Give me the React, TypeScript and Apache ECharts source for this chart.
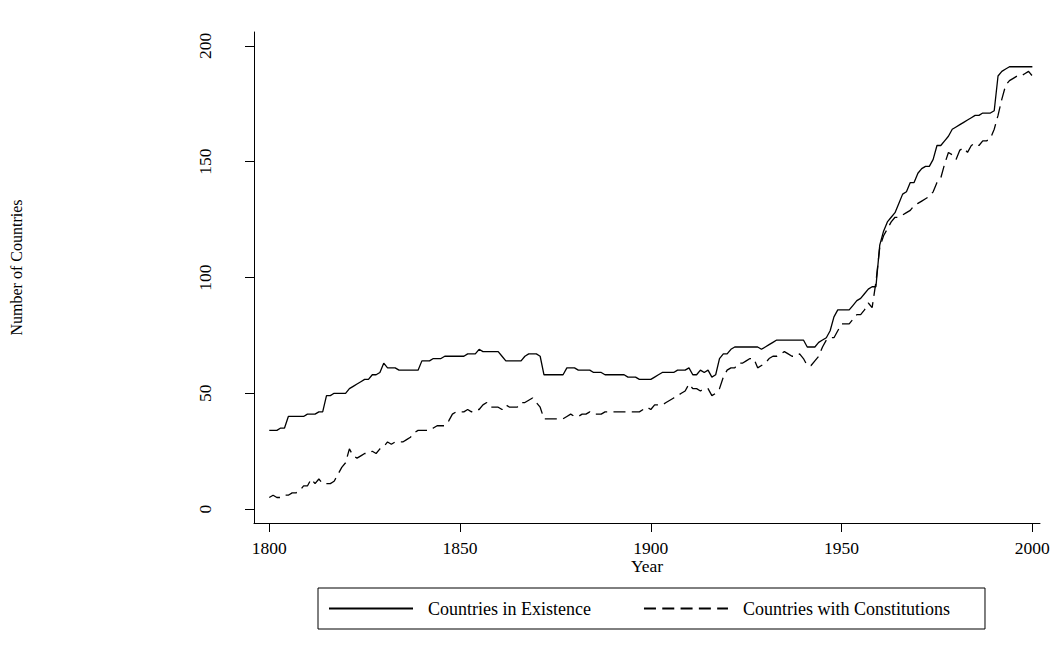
import React, { useEffect, useRef } from "react";
import * as echarts from "echarts";

const START_YEAR = 1800;

// Countries in existence, one value per year 1800..2000
const existence = [
  34, 34, 34, 35, 35, 40, 40, 40, 40, 40, // 1800s
  41, 41, 41, 42, 42, 49, 49, 50, 50, 50, // 1810s
  50, 52, 53, 54, 55, 56, 56, 58, 58, 59, // 1820s
  63, 61, 61, 61, 60, 60, 60, 60, 60, 60, // 1830s
  64, 64, 64, 65, 65, 65, 66, 66, 66, 66, // 1840s
  66, 66, 67, 67, 67, 69, 68, 68, 68, 68, // 1850s
  68, 66, 64, 64, 64, 64, 64, 66, 67, 67, // 1860s
  67, 66, 58, 58, 58, 58, 58, 58, 61, 61, // 1870s
  61, 60, 60, 60, 60, 59, 59, 59, 58, 58, // 1880s
  58, 58, 58, 58, 57, 57, 57, 56, 56, 56, // 1890s
  56, 57, 58, 59, 59, 59, 59, 60, 60, 60, // 1900s
  61, 58, 58, 60, 59, 60, 57, 58, 65, 67, // 1910s
  67, 69, 70, 70, 70, 70, 70, 70, 70, 69, // 1920s
  70, 71, 72, 73, 73, 73, 73, 73, 73, 73, // 1930s
  73, 70, 70, 70, 72, 73, 74, 77, 83, 86, // 1940s
  86, 86, 86, 88, 90, 91, 93, 95, 96, 96, // 1950s
  114, 120, 124, 126, 128, 132, 136, 137, 141, 141, // 1960s
  145, 147, 148, 148, 151, 157, 157, 159, 161, 164, // 1970s
  165, 166, 167, 168, 169, 170, 170, 171, 171, 171, // 1980s
  172, 187, 189, 190, 191, 191, 191, 191, 191, 191, // 1990s
  191, // 2000
];

// Countries with constitutions, one value per year 1800..2000
const constitutions = [
  5, 6, 5, 5, 6, 6, 7, 7, 8, 10, // 1800s
  10, 13, 11, 13, 11, 11, 11, 12, 15, 18, // 1810s
  20, 26, 23, 22, 23, 24, 24, 25, 24, 26, // 1820s
  27, 29, 28, 29, 29, 29, 30, 31, 33, 34, // 1830s
  34, 34, 34, 35, 36, 36, 36, 38, 41, 42, // 1840s
  42, 42, 43, 42, 43, 43, 45, 46, 44, 44, // 1850s
  44, 43, 45, 44, 44, 44, 46, 46, 47, 48, // 1860s
  46, 44, 39, 39, 39, 39, 39, 39, 40, 41, // 1870s
  40, 40, 41, 41, 42, 41, 41, 41, 42, 42, // 1880s
  42, 42, 42, 42, 42, 42, 42, 42, 43, 44, // 1890s
  43, 45, 45, 45, 46, 47, 48, 49, 50, 51, // 1900s
  54, 52, 52, 51, 52, 52, 49, 50, 52, 57, // 1910s
  60, 61, 61, 63, 63, 64, 65, 65, 61, 62, // 1920s
  63, 65, 66, 66, 67, 68, 67, 66, 66, 67, // 1930s
  65, 62, 62, 64, 66, 70, 73, 74, 74, 77, // 1940s
  80, 80, 80, 82, 84, 84, 86, 89, 87, 98, // 1950s
  113, 118, 121, 124, 126, 126, 127, 128, 129, 131, // 1960s
  132, 133, 134, 135, 137, 141, 143, 149, 154, 153, // 1970s
  151, 155, 156, 154, 157, 158, 157, 159, 159, 160, // 1980s
  164, 170, 177, 183, 185, 186, 187, 187, 188, 189, // 1990s
  187, // 2000
];

const xTicks = [1800, 1850, 1900, 1950, 2000];
const yTicks = [0, 50, 100, 150, 200];
const seriesNames = ["Countries in Existence", "Countries with Constitutions"];

export default function App() {
  const ref = useRef<HTMLDivElement>(null);

  useEffect(() => {
    if (!ref.current) return;
    const chart = echarts.init(ref.current, null, { renderer: "svg" });
    const font = "'Liberation Serif', 'Times New Roman', Times, serif";
    const years = existence.map((_, i) => START_YEAR + i);

    chart.setOption({
      animation: false,
      backgroundColor: "#ffffff",
      grid: { left: 254, right: 22, top: 32, bottom: 132, containLabel: false },
      xAxis: {
        type: "value",
        min: 1796,
        max: 2002,
        name: "Year",
        nameLocation: "middle",
        nameGap: 34,
        nameMoveOverlap: false,
        nameTextStyle: { fontFamily: font, fontSize: 17.5, color: "#000" },
        axisLine: { show: true, onZero: false, lineStyle: { color: "#000", width: 1 } },
        axisTick: { show: true, customValues: xTicks, length: 9, lineStyle: { color: "#000", width: 1 } },
        axisLabel: {
          customValues: xTicks,
          margin: 16,
          fontFamily: font,
          fontSize: 17.5,
          color: "#000",
          formatter: (v: number) => String(v),
        },
        splitLine: { show: false },
      },
      yAxis: {
        type: "value",
        min: -6,
        max: 206,
        name: "Number of Countries",
        nameLocation: "middle",
        nameGap: 230,
        nameMoveOverlap: false,
        nameTextStyle: { fontFamily: font, fontSize: 16, color: "#000", padding: [0, 0, 0, 20] },
        axisLine: { show: true, onZero: false, lineStyle: { color: "#000", width: 1 } },
        axisTick: { show: true, customValues: yTicks, length: 9, lineStyle: { color: "#000", width: 1 } },
        axisLabel: {
          customValues: yTicks,
          rotate: 90,
          margin: 40,
          fontFamily: font,
          fontSize: 17.5,
          color: "#000",
          formatter: (v: number) => String(v),
        },
        splitLine: { show: false },
      },
      legend: {
        left: 318,
        top: 588,
        orient: "horizontal",
        padding: [11, 35, 11, 10],
        borderColor: "#000",
        borderWidth: 1,
        itemWidth: 84,
        itemHeight: 19,
        itemGap: 52,
        selectedMode: false,
        itemStyle: { color: "transparent", borderColor: "transparent", borderWidth: 0, opacity: 0 },
        textStyle: { fontFamily: font, fontSize: 18, color: "#000", lineHeight: 19, padding: [0, 0, 0, 10] },
        data: seriesNames,
      },
      series: [
        {
          name: seriesNames[0],
          type: "line",
          data: years.map((y, i) => [y, existence[i]]),
          symbol: "none",
          itemStyle: { color: "#000" },
          lineStyle: { color: "#000", width: 1.3, type: "solid" },
        },
        {
          name: seriesNames[1],
          type: "line",
          data: years.map((y, i) => [y, constitutions[i]]),
          symbol: "none",
          itemStyle: { color: "#000" },
          lineStyle: { color: "#000", width: 1.3, type: [12, 6.3] },
        },
      ],
    });

    return () => chart.dispose();
  }, []);

  return (
    <div
      ref={ref}
      style={{ position: "fixed", left: 0, top: 0, width: 1062, height: 655, background: "#fff" }}
    />
  );
}
